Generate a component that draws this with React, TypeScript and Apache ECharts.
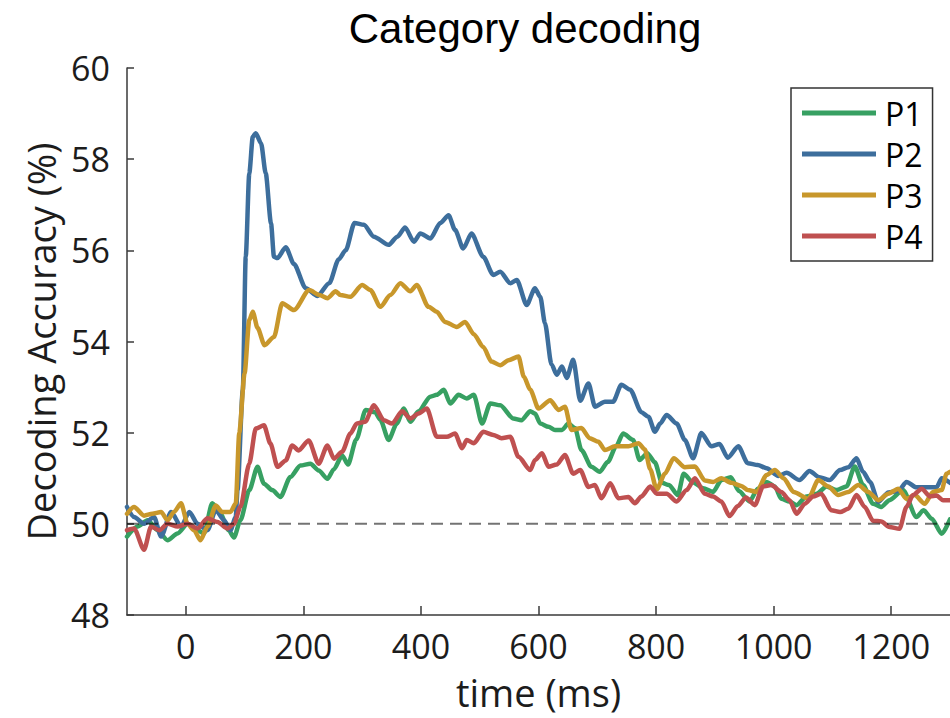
import React, { useEffect, useRef } from "react";
import * as echarts from "echarts";

const titleText = "Category decoding";
const xName = "time (ms)";
const yName = "Decoding Accuracy (%)";
const seriesNames = ["P1", "P2", "P3", "P4"];
const seriesColors = ["#37a062", "#3d6e9c", "#c8972b", "#bf5050"];
const xTicks = [0, 200, 400, 600, 800, 1000, 1200];
const xRange = [-100, 1300];
const yRange = [48, 60];
const yStep = 2;
const chanceLevel = 50;

// [time (ms), accuracy (%)]
const p1 = [
  [-100, 49.72], [-82, 49.94], [-65, 50.08], [-48, 49.86], [-31, 49.64], [-14, 49.79], [3, 50.0], [20, 49.86],
  [31, 49.79], [45, 50.45], [59, 50.22], [73, 49.86], [82, 49.7], [93, 50.08], [108, 50.74], [122, 51.25],
  [133, 50.88], [147, 50.74], [161, 50.59], [178, 51.03], [195, 51.28], [212, 51.32], [226, 51.17], [241, 50.99],
  [252, 51.2], [266, 51.5], [276, 51.3], [290, 51.85], [306, 52.5], [322, 52.45], [331, 52.28], [345, 51.84],
  [359, 52.2], [371, 52.53], [382, 52.24], [396, 52.47], [416, 52.79], [427, 52.83], [439, 52.94], [450, 52.64],
  [464, 52.83], [478, 52.75], [490, 52.83], [504, 52.2], [518, 52.64], [535, 52.6], [557, 52.31], [571, 52.27],
  [586, 52.47], [594, 52.42], [603, 52.2], [617, 52.13], [628, 52.06], [640, 52.06], [651, 52.2], [662, 52.1],
  [673, 51.62], [690, 51.25], [704, 51.14], [718, 51.36], [732, 51.7], [744, 51.98], [761, 51.84], [772, 51.4],
  [785, 51.55], [798, 51.35], [810, 50.9], [822, 50.85], [837, 50.63], [847, 51.1], [862, 50.92], [880, 50.78],
  [897, 50.7], [911, 50.96], [927, 51.02], [941, 50.72], [959, 50.49], [973, 50.77], [988, 50.92], [1002, 50.82],
  [1013, 50.55], [1027, 50.49], [1039, 50.41], [1056, 50.6], [1073, 50.66], [1090, 50.82], [1107, 50.74],
  [1124, 50.82], [1138, 51.26], [1152, 50.85], [1169, 50.44], [1183, 50.37], [1197, 50.52], [1220, 50.74],
  [1243, 50.15], [1255, 50.3], [1269, 50.11], [1286, 49.78], [1300, 50.1],
];

const p2 = [
  [-100, 50.37], [-88, 50.15], [-71, 50.0], [-54, 50.15], [-42, 49.72], [-25, 50.26], [-8, 49.94], [6, 50.26],
  [20, 50.0], [37, 49.86], [51, 50.3], [65, 50.08], [76, 49.86], [85, 50.15], [88, 50.74], [97, 52.93],
  [102, 55.86], [108, 57.69], [114, 58.49], [119, 58.57], [128, 58.35], [136, 57.69], [145, 56.59], [150, 55.86],
  [156, 55.83], [170, 56.07], [184, 55.7], [204, 55.17], [224, 55.0], [244, 55.28], [260, 55.8], [272, 56.0],
  [287, 56.6], [303, 56.56], [320, 56.3], [345, 56.12], [360, 56.3], [373, 56.5], [388, 56.19], [399, 56.37],
  [416, 56.26], [433, 56.6], [447, 56.77], [458, 56.45], [472, 56.04], [486, 56.37], [506, 55.86], [523, 55.46],
  [535, 55.53], [552, 55.28], [563, 55.35], [580, 54.8], [594, 55.17], [603, 54.98], [611, 54.4], [622, 53.5],
  [631, 53.27], [640, 53.45], [648, 53.2], [659, 53.6], [671, 52.7], [685, 53.08], [696, 52.57], [713, 52.68],
  [727, 52.68], [741, 53.05], [756, 52.94], [775, 52.45], [787, 52.35], [798, 52.02], [807, 52.2], [818, 52.39],
  [835, 52.2], [849, 51.84], [863, 51.44], [877, 51.99], [894, 51.7], [908, 51.75], [922, 51.45], [940, 51.7],
  [956, 51.33], [973, 51.29], [988, 51.22], [1008, 51.05], [1022, 51.12], [1044, 50.96], [1061, 51.16],
  [1078, 51.02], [1095, 50.96], [1113, 51.18], [1127, 51.24], [1141, 51.44], [1152, 51.14], [1164, 50.92],
  [1178, 50.48], [1195, 50.69], [1212, 50.72], [1226, 50.92], [1243, 50.8], [1260, 50.8], [1277, 50.8],
  [1286, 51.0], [1300, 50.9],
];

const p3 = [
  [-100, 50.22], [-88, 50.37], [-71, 50.18], [-57, 50.22], [-42, 50.26], [-31, 50.08], [-20, 50.26], [-8, 50.45],
  [3, 50.0], [14, 49.86], [25, 49.64], [37, 49.94], [51, 50.4], [62, 50.26], [76, 50.26], [85, 50.45],
  [91, 52.0], [100, 53.3], [108, 54.47], [114, 54.65], [122, 54.3], [134, 53.92], [150, 54.1], [164, 54.84],
  [184, 54.69], [210, 55.13], [227, 55.02], [241, 54.95], [255, 55.1], [263, 55.02], [280, 54.98], [300, 55.24],
  [314, 55.13], [331, 54.76], [348, 55.02], [365, 55.28], [382, 55.1], [393, 55.24], [413, 54.76], [427, 54.65],
  [441, 54.43], [461, 54.32], [475, 54.43], [490, 54.16], [506, 53.88], [520, 53.56], [535, 53.48], [549, 53.59],
  [566, 53.67], [575, 53.23], [586, 52.94], [600, 52.53], [620, 52.71], [634, 52.5], [645, 52.57], [656, 52.06],
  [673, 52.1], [687, 51.88], [702, 51.8], [713, 51.62], [730, 51.7], [753, 51.7], [770, 51.77], [781, 51.63],
  [790, 51.2], [801, 50.75], [815, 51.1], [830, 51.44], [849, 51.24], [866, 51.26], [883, 50.95], [897, 50.92],
  [911, 51.0], [928, 50.9], [945, 50.83], [956, 50.74], [971, 50.7], [988, 51.07], [1002, 51.18], [1017, 51.0],
  [1034, 50.7], [1059, 50.55], [1076, 50.96], [1093, 50.82], [1110, 50.63], [1127, 50.7], [1144, 50.85],
  [1161, 50.7], [1178, 50.52], [1195, 50.66], [1212, 50.77], [1226, 50.55], [1240, 50.63], [1257, 50.44],
  [1271, 50.7], [1286, 50.74], [1294, 51.1], [1300, 51.14],
];

const p4 = [
  [-100, 49.86], [-88, 49.9], [-71, 49.43], [-59, 49.94], [-45, 49.86], [-31, 50.0], [-14, 49.94], [3, 50.0],
  [20, 49.9], [37, 50.12], [54, 50.04], [71, 49.9], [82, 50.0], [93, 50.37], [108, 51.32], [119, 52.09],
  [133, 52.16], [144, 51.76], [156, 51.25], [170, 51.39], [181, 51.72], [192, 51.61], [209, 51.83], [226, 51.32],
  [241, 51.72], [252, 51.43], [266, 51.58], [280, 51.98], [291, 52.2], [305, 52.24], [320, 52.6], [337, 52.27],
  [351, 52.2], [368, 52.47], [382, 52.31], [396, 52.42], [410, 52.53], [427, 51.91], [444, 51.91], [458, 51.98],
  [470, 51.66], [478, 51.84], [490, 51.77], [506, 52.02], [523, 51.95], [537, 51.88], [552, 51.91], [566, 51.47],
  [586, 51.18], [594, 51.4], [606, 51.55], [617, 51.25], [631, 51.3], [645, 51.51], [659, 51.1], [671, 51.18],
  [685, 50.81], [696, 50.85], [707, 50.56], [722, 50.89], [736, 50.56], [753, 50.59], [764, 50.45], [775, 50.6],
  [790, 50.82], [801, 50.66], [818, 50.66], [835, 50.49], [852, 50.74], [866, 51.0], [883, 50.66], [897, 50.6],
  [911, 50.49], [925, 50.17], [939, 50.39], [953, 50.58], [968, 50.41], [982, 50.82], [996, 50.85], [1013, 50.7],
  [1027, 50.52], [1039, 50.22], [1053, 50.44], [1067, 50.6], [1081, 50.66], [1098, 50.3], [1113, 50.26],
  [1127, 50.33], [1141, 50.63], [1155, 50.37], [1169, 50.07], [1183, 50.05], [1197, 49.93], [1214, 49.89],
  [1226, 50.37], [1237, 50.63], [1252, 50.77], [1266, 50.6], [1277, 50.62], [1288, 50.52], [1300, 50.52],
];

const seriesData = [p1, p2, p3, p4];

const tickFont = "'Open Sans', 'DejaVu Sans', sans-serif";
const axisColor = "#3a3a3a";
const textColor = "#1c1c1c";

export default function App() {
  const ref = useRef<HTMLDivElement>(null);

  useEffect(() => {
    if (!ref.current) return;
    const chart = echarts.init(ref.current, undefined, { renderer: "svg" });

    const lineSeries = seriesNames.map((name, i) => ({
      name,
      type: "line",
      data: seriesData[i],
      showSymbol: false,
      symbol: "none",
      smooth: 0.25,
      smoothMonotone: "x",
      color: seriesColors[i],
      lineStyle: { width: 4.5, color: seriesColors[i], join: "round", cap: "round" },
      z: 2 + i,
    }));

    const option = {
      animation: false,
      backgroundColor: "#ffffff",
      graphic: [
        {
          type: "text",
          x: 525,
          y: 28,
          style: {
            text: titleText,
            font: "42px 'Liberation Sans', Arial, sans-serif",
            fill: "#000",
            align: "center",
            verticalAlign: "middle",
          },
        },
      ],
      grid: { left: 127, top: 68, right: 0, bottom: 103, containLabel: false },
      legend: {
        data: seriesNames,
        left: 791,
        top: 88,
        orient: "vertical",
        icon: "rect",
        itemWidth: 74,
        itemHeight: 5,
        itemGap: 9,
        padding: [9, 10, 9, 11],
        borderColor: "#333",
        borderWidth: 1.5,
        backgroundColor: "#fff",
        textStyle: {
          fontFamily: tickFont,
          fontSize: 32,
          lineHeight: 32,
          color: "#000",
          padding: [0, 0, 0, 4],
        },
      },
      xAxis: {
        type: "value",
        min: xRange[0],
        max: xRange[1],
        name: xName,
        nameLocation: "middle",
        nameGap: 58,
        nameTextStyle: { fontFamily: tickFont, fontSize: 38, lineHeight: 38, color: textColor },
        axisLine: { show: true, onZero: false, lineStyle: { color: axisColor, width: 1.5 } },
        axisTick: {
          show: true,
          inside: true,
          length: 9,
          customValues: xTicks,
          lineStyle: { color: axisColor, width: 1.5 },
        },
        axisLabel: {
          customValues: xTicks,
          margin: 14,
          fontFamily: tickFont,
          fontSize: 34,
          lineHeight: 34,
          color: textColor,
          formatter: (v: number) => String(v),
        },
        splitLine: { show: false },
      },
      yAxis: {
        type: "value",
        min: yRange[0],
        max: yRange[1],
        interval: yStep,
        name: yName,
        nameLocation: "middle",
        nameGap: 62,
        nameTextStyle: { fontFamily: tickFont, fontSize: 38, color: textColor },
        axisLine: { show: true, onZero: false, lineStyle: { color: axisColor, width: 1.5 } },
        axisTick: { show: true, inside: true, length: 7, lineStyle: { color: axisColor, width: 1.5 } },
        axisLabel: {
          margin: 17,
          fontFamily: tickFont,
          fontSize: 34,
          color: textColor,
          formatter: (v: number) => String(v),
        },
        splitLine: { show: false },
      },
      series: [
        ...lineSeries,
        {
          name: "chance",
          type: "line",
          data: [
            [xRange[0], chanceLevel],
            [xRange[1], chanceLevel],
          ],
          showSymbol: false,
          symbol: "none",
          silent: true,
          lineStyle: { width: 2, color: "rgba(0,0,0,0.55)", type: [12, 7] },
          z: 10,
        },
      ],
    };

    chart.setOption(option as any);
    return () => chart.dispose();
  }, []);

  return (
    <div
      ref={ref}
      style={{ position: "fixed", left: 0, top: 0, width: 950, height: 718, background: "#fff" }}
    />
  );
}
